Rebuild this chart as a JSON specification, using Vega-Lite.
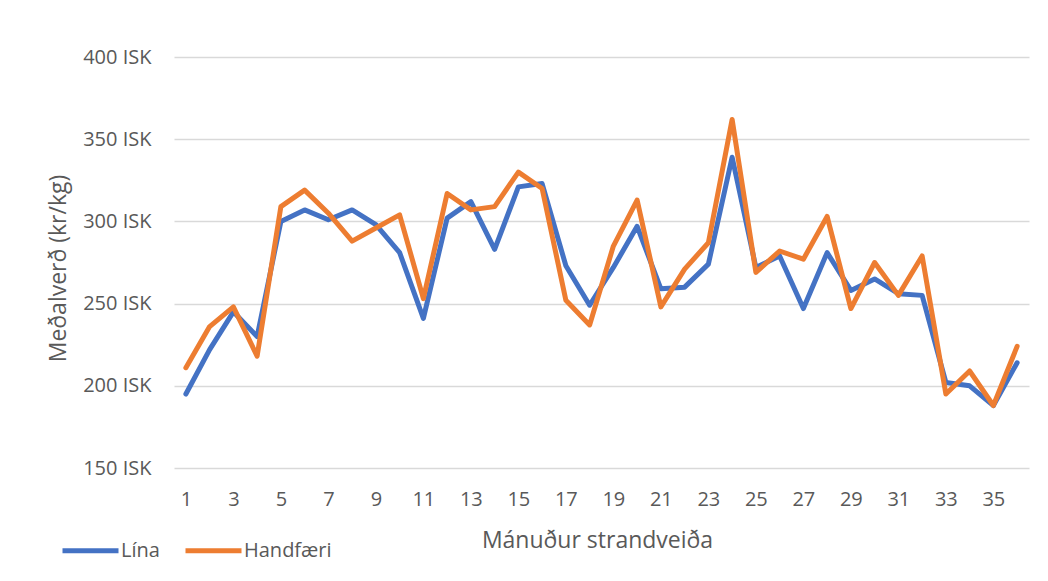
{
  "$schema": "https://vega.github.io/schema/vega-lite/v6.json",
  "width": 855,
  "height": 411,
  "autosize": {"type": "none"},
  "padding": {"left": 174, "top": 57, "right": 19, "bottom": 113},
  "background": "white",
  "config": {
    "font": "Open Sans",
    "view": {"stroke": null}
  },
  "datasets": {
    "lina": [
      {"m": 1, "v": 195}, {"m": 2, "v": 222}, {"m": 3, "v": 245}, {"m": 4, "v": 230},
      {"m": 5, "v": 300}, {"m": 6, "v": 307}, {"m": 7, "v": 301}, {"m": 8, "v": 307},
      {"m": 9, "v": 298}, {"m": 10, "v": 281}, {"m": 11, "v": 241}, {"m": 12, "v": 302},
      {"m": 13, "v": 312}, {"m": 14, "v": 283}, {"m": 15, "v": 321}, {"m": 16, "v": 323},
      {"m": 17, "v": 273}, {"m": 18, "v": 249}, {"m": 19, "v": 272}, {"m": 20, "v": 297},
      {"m": 21, "v": 259}, {"m": 22, "v": 260}, {"m": 23, "v": 274}, {"m": 24, "v": 339},
      {"m": 25, "v": 272}, {"m": 26, "v": 279}, {"m": 27, "v": 247}, {"m": 28, "v": 281},
      {"m": 29, "v": 258}, {"m": 30, "v": 265}, {"m": 31, "v": 256}, {"m": 32, "v": 255},
      {"m": 33, "v": 202}, {"m": 34, "v": 200}, {"m": 35, "v": 188}, {"m": 36, "v": 214}
    ],
    "handfaeri": [
      {"m": 1, "v": 211}, {"m": 2, "v": 236}, {"m": 3, "v": 248}, {"m": 4, "v": 218},
      {"m": 5, "v": 309}, {"m": 6, "v": 319}, {"m": 7, "v": 305}, {"m": 8, "v": 288},
      {"m": 9, "v": 296}, {"m": 10, "v": 304}, {"m": 11, "v": 253}, {"m": 12, "v": 317},
      {"m": 13, "v": 307}, {"m": 14, "v": 309}, {"m": 15, "v": 330}, {"m": 16, "v": 320},
      {"m": 17, "v": 252}, {"m": 18, "v": 237}, {"m": 19, "v": 285}, {"m": 20, "v": 313},
      {"m": 21, "v": 248}, {"m": 22, "v": 271}, {"m": 23, "v": 287}, {"m": 24, "v": 362},
      {"m": 25, "v": 269}, {"m": 26, "v": 282}, {"m": 27, "v": 277}, {"m": 28, "v": 303},
      {"m": 29, "v": 247}, {"m": 30, "v": 275}, {"m": 31, "v": 255}, {"m": 32, "v": 279},
      {"m": 33, "v": 195}, {"m": 34, "v": 209}, {"m": 35, "v": 188}, {"m": 36, "v": 224}
    ]
  },
  "layer": [
    {
      "data": {"name": "lina"},
      "transform": [{"calculate": "'Lína'", "as": "series"}],
      "mark": {"type": "line", "strokeWidth": 5, "strokeJoin": "round", "strokeCap": "round"},
      "encoding": {
        "x": {
          "field": "m", "type": "quantitative",
          "scale": {"domain": [0.5, 36.5], "nice": false, "zero": false},
          "axis": {
            "values": [1, 3, 5, 7, 9, 11, 13, 15, 17, 19, 21, 23, 25, 27, 29, 31, 33, 35],
            "grid": false, "ticks": false, "domain": false,
            "labelFontSize": 20, "labelColor": "#595959", "labelPadding": 21,
            "title": "Mánuður strandveiða", "titleFontSize": 23, "titleFontWeight": "normal",
            "titleColor": "#595959", "titleBaseline": "alphabetic", "titleY": 79, "titleX": 423
          }
        },
        "y": {
          "field": "v", "type": "quantitative",
          "scale": {"domain": [150, 400], "nice": false, "zero": false},
          "axis": {
            "values": [150, 200, 250, 300, 350, 400],
            "labelExpr": "datum.value + ' ISK'",
            "grid": true, "gridColor": "#d9d9d9", "gridWidth": 1.5,
            "ticks": false, "domain": false,
            "labelFontSize": 20, "labelColor": "#595959", "labelPadding": 23,
            "title": "Meðalverð (kr/kg)", "titleFontSize": 23, "titleFontWeight": "normal",
            "titleColor": "#595959", "titleBaseline": "alphabetic", "titleAlign": "center",
            "titleAngle": -90, "titleX": -109, "titleY": 211
          }
        },
        "color": {
          "field": "series", "type": "nominal",
          "scale": {"domain": ["Lína", "Handfæri"], "range": ["#4472C4", "#ED7D31"]},
          "legend": {
            "title": null, "orient": "none", "direction": "horizontal",
            "legendX": -114, "legendY": 463,
            "symbolType": "stroke", "symbolSize": 3136, "symbolStrokeWidth": 5,
            "labelFontSize": 20, "labelColor": "#595959", "labelOffset": 0, "columnPadding": 15
          }
        }
      }
    },
    {
      "data": {"name": "handfaeri"},
      "transform": [{"calculate": "'Handfæri'", "as": "series"}],
      "mark": {"type": "line", "strokeWidth": 5, "strokeJoin": "round", "strokeCap": "round"},
      "encoding": {
        "x": {"field": "m", "type": "quantitative"},
        "y": {"field": "v", "type": "quantitative"},
        "color": {"field": "series", "type": "nominal"}
      }
    }
  ]
}
